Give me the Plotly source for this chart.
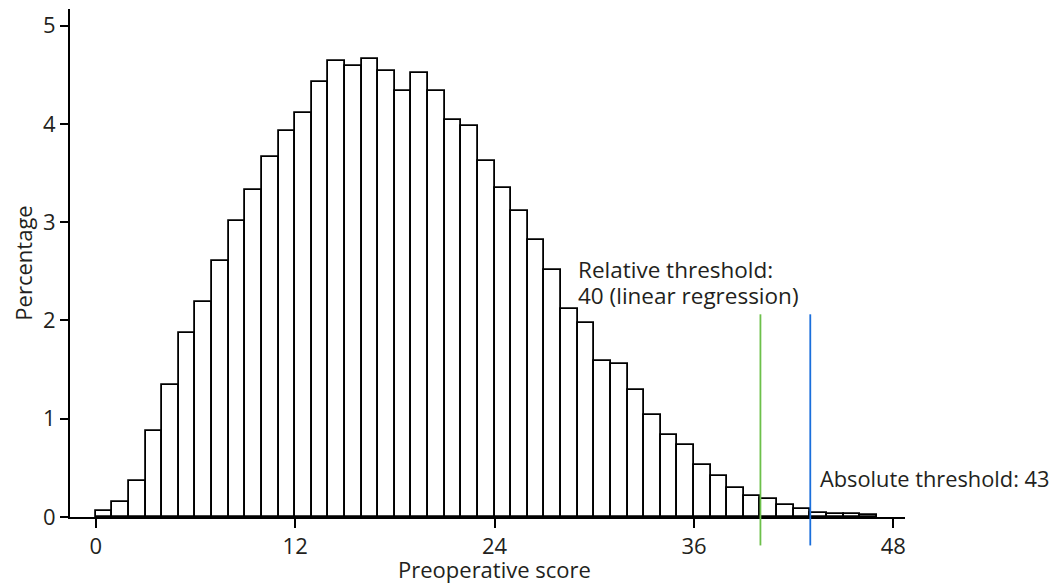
import plotly.graph_objects as go

# Data
bin_starts = list(range(0, 47))
percentages = [0.057, 0.153, 0.37, 0.88, 1.34, 1.875, 2.19, 2.61, 3.01, 3.33,
               3.66, 3.93, 4.11, 4.43, 4.645, 4.59, 4.665, 4.54, 4.34, 4.52,
               4.34, 4.045, 3.98, 3.62, 3.345, 3.115, 2.82, 2.51, 2.115, 1.977,
               1.587, 1.556, 1.288, 1.034, 0.83, 0.728, 0.525, 0.413, 0.298, 0.217,
               0.179, 0.122, 0.077, 0.044, 0.03, 0.03, 0.023]
x_ticks = [0, 12, 24, 36, 48]
y_ticks = [0, 1, 2, 3, 4, 5]
threshold_values = [40, 43]
threshold_colors = ["#6cc04a", "#1a6fdb"]
relative_label_lines = ["Relative threshold:", "40 (linear regression)"]
absolute_label = "Absolute threshold: 43"
x_title = "Preoperative score"
y_title = "Percentage"

FONT = "Open Sans"
TXT = "#231f20"
FS = 22

fig = go.Figure()
fig.add_trace(go.Bar(
    x=bin_starts, y=percentages, width=1, offset=0,
    marker=dict(color="white", line=dict(color="black", width=1.8)),
    showlegend=False, hoverinfo="x+y",
))

for xv, col in zip(threshold_values, threshold_colors):
    fig.add_shape(type="line", xref="x", yref="paper", x0=xv, x1=xv,
                  y0=-0.056, y1=0.399, line=dict(color=col, width=1.8))

for txt, yv in zip(relative_label_lines, [2.519, 2.254]):
    fig.add_annotation(x=28.88, y=yv, xref="x", yref="y", text=txt,
                       showarrow=False, xanchor="left", yanchor="middle", align="left",
                       font=dict(family=FONT, size=22.5, color=TXT))
fig.add_annotation(x=43.48, y=0.39, xref="x", yref="y", text=absolute_label,
                   showarrow=False, xanchor="left", yanchor="middle", align="left",
                   font=dict(family=FONT, size=21.8, color=TXT))

# x-axis title placed as annotation to match reference spacing
fig.add_annotation(x=24, y=-0.102, xref="x", yref="paper", text=x_title,
                   showarrow=False, xanchor="center", yanchor="middle",
                   font=dict(family=FONT, size=FS, color=TXT))

fig.update_layout(
    width=1054, height=580,
    margin=dict(l=62, r=157, t=1, b=71),
    plot_bgcolor="white", paper_bgcolor="white",
    font=dict(family=FONT, size=FS, color=TXT),
    bargap=0,
    xaxis=dict(range=[-1.55, 48.7], tickvals=x_ticks, ticks="outside", ticklen=9,
               tickwidth=2, tickcolor="black", showline=True, linecolor="black",
               linewidth=2, showgrid=False, zeroline=False,
               automargin=False, tickfont=dict(family=FONT, size=FS, color=TXT)),
    yaxis=dict(range=[0, 5.17], tickvals=y_ticks, ticks="outside", ticklen=8,
               tickwidth=2, tickcolor="black", showline=True, linecolor="black",
               linewidth=2, showgrid=False, zeroline=False,
               title=dict(text=y_title, standoff=9,
                          font=dict(family=FONT, size=FS, color=TXT)),
               automargin=False, tickfont=dict(family=FONT, size=FS, color=TXT)),
)

fig.write_html("out.html")
